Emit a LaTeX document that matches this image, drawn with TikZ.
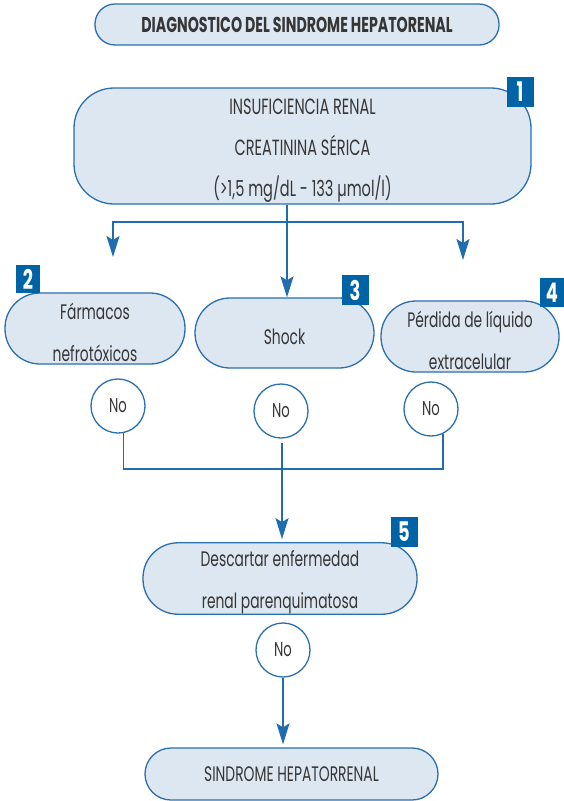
\documentclass[tikz,border=0pt]{standalone}
\usepackage{fontspec}
\setmainfont{Poppins}[FakeStretch=0.66]
\usetikzlibrary{arrows.meta,positioning,calc}
\definecolor{boxfill}{HTML}{DDE7F1}
\definecolor{boxline}{HTML}{2A6FAE}
\definecolor{flowline}{HTML}{1F6DAE}
\definecolor{badge}{HTML}{0063A6}
\definecolor{txt}{HTML}{363636}
\newcommand{\topstrut}{\rule{0pt}{24pt}}
\tikzset{
  pill/.style={draw=boxline,fill=boxfill,line width=1.3pt,inner sep=0pt,
    align=center,text=txt,font=\fontsize{21}{42}\selectfont},
  tag/.style={fill=badge,text=white,inner sep=0pt,minimum width=27pt,
    minimum height=30pt,font=\bfseries\fontsize{27}{27}\selectfont},
  nobox/.style={circle,draw=boxline,fill=white,line width=1.3pt,
    minimum size=54pt,inner sep=0pt,text=txt,font=\fontsize{20}{20}\selectfont},
  link/.style={draw=flowline,line width=1.4pt},
  arrow/.style={link,-{Stealth[length=21pt,width=13pt,inset=4pt]}}
}
\begin{document}
\begin{tikzpicture}[x=1pt,y=-1pt]
  \useasboundingbox (0,0) rectangle (564,801);
  % boxes
  \node[pill,minimum width=404pt,minimum height=41pt,rounded corners=20pt,
    font=\bfseries\fontsize{21.5}{21.5}\selectfont] (title) at (297,24.5)
    {DIAGNOSTICO DEL SINDROME HEPATORENAL};
  \node[pill,minimum width=457pt,minimum height=116pt,rounded corners=40pt,
    font=\fontsize{22}{41}\selectfont] (renal) at (302.5,146)
    {\topstrut INSUFICIENCIA RENAL\\CREATININA SÉRICA\\(>1,5 mg/dL - 133 µmol/l)};
  \node[pill,minimum width=180pt,minimum height=71pt,rounded corners=35pt] (farm) at (95,328.5)
    {\topstrut Fármacos\\nefrotóxicos};
  \node[pill,minimum width=179pt,minimum height=70pt,rounded corners=35pt] (shock) at (284.5,333)
    {\topstrut Shock};
  \node[pill,minimum width=178pt,minimum height=71pt,rounded corners=35pt] (perd) at (470,336.5)
    {\topstrut Pérdida de líquido\\extracelular};
  \node[pill,minimum width=274pt,minimum height=71pt,rounded corners=35pt] (desc) at (280,578.5)
    {\topstrut Descartar enfermedad\\renal parenquimatosa};
  \node[pill,minimum width=293pt,minimum height=52pt,rounded corners=26pt] (shr) at (291.5,774)
    {SINDROME HEPATORRENAL};
  % numbers
  \node[tag] (n1) at (520,92) {1};
  \node[tag,minimum width=24pt,minimum height=28pt] (n2) at (28,279) {2};
  \node[tag] (n3) at (355,290) {3};
  \node[tag,minimum width=24pt,minimum height=29pt] (n4) at (552,292.5) {4};
  \node[tag] (n5) at (404,532) {5};
  % answers
  \node[nobox] (no1) at (118,406) {No};
  \node[nobox] (no2) at (281,411) {No};
  \node[nobox] (no3) at (431,409) {No};
  \node[nobox] (no5) at (283,650) {No};
  % connectors
  \coordinate (split) at (287,222);
  \coordinate (tipL) at (113,257);
  \coordinate (tipR) at (463,260);
  \coordinate (join) at (282,469);
  \draw[arrow] (renal.south -| split) -- (shock.north -| split);
  \draw[arrow] (split) -| (tipL);
  \draw[arrow] (split) -| (tipR);
  \draw[link] (no1.-79) |- (join) -| (no3.-64);
  \draw[arrow,shorten <=4pt,shorten >=3pt] (no2.south -| join) -- (desc.north -| join);
  \draw[arrow,shorten >=3pt] (no5) -- (shr.north -| no5);
\end{tikzpicture}
\end{document}
